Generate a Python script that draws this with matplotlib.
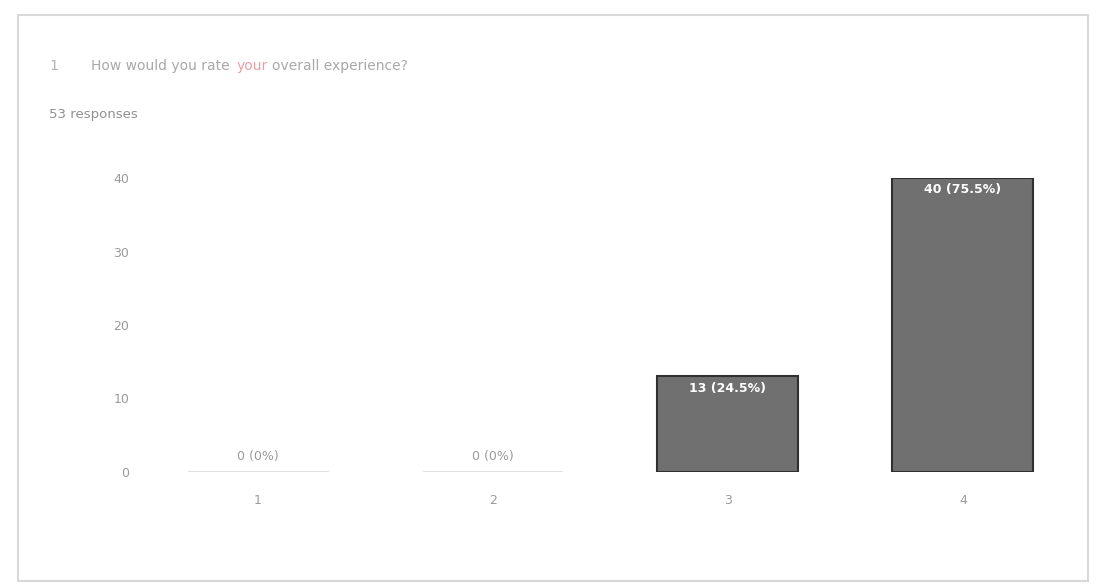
import matplotlib
matplotlib.use("Agg")
import matplotlib.pyplot as plt
from matplotlib.patches import Rectangle

categories = ["1", "2", "3", "4"]
counts = [0, 0, 13, 40]
percents = ["0%", "0%", "24.5%", "75.5%"]
y_ticks = [0, 10, 20, 30, 40]
total_responses = 53

fig = plt.figure(figsize=(10.98, 5.84), dpi=100)
fig.patch.set_facecolor("white")

# card border
fig.patches.append(Rectangle((0.016, 0.005), 0.975, 0.97, transform=fig.transFigure,
                             fill=False, edgecolor="#d8d8d8", linewidth=1.5))

ax = fig.add_axes([0.128, 0.192, 0.856, 0.503])
x = range(len(categories))
edge = ["#e2e2e2" if c == 0 else "#303030" for c in counts]
bars = ax.bar(x, counts, width=0.6, color="#707070", edgecolor=edge, linewidth=1.5)

for i, (c, p) in enumerate(zip(counts, percents)):
    if c == 0:
        ax.text(i, 1.2, f"{c} ({p})", ha="center", va="bottom", fontsize=9, color="#9a9a9a")
    else:
        ax.text(i, c - 0.7, f"{c} ({p})", ha="center", va="top", fontsize=9,
                color="white", fontweight="bold")

ax.set_xlim(-0.5, 3.5)
ax.set_ylim(0, 40)
ax.set_xticks(list(x))
ax.set_xticklabels(categories)
ax.set_yticks(y_ticks)
ax.tick_params(axis="x", length=0, colors="#9a9a9a", labelsize=9, pad=16)
ax.tick_params(axis="y", length=0, colors="#9a9a9a", labelsize=9, pad=8)
for s in ax.spines.values():
    s.set_visible(False)

fig.text(0.045, 0.88, "1", fontsize=10, color="#b0b0b0")
fig.text(0.083, 0.88, "How would you rate", fontsize=10, color="#a8a8a8")
fig.text(0.215, 0.88, "your", fontsize=10, color="#e8a0a8")
fig.text(0.248, 0.88, "overall experience?", fontsize=10, color="#a8a8a8")
fig.text(0.045, 0.798, f"{total_responses} responses", fontsize=9.5, color="#909090")

plt.savefig("out.png", dpi=100)
